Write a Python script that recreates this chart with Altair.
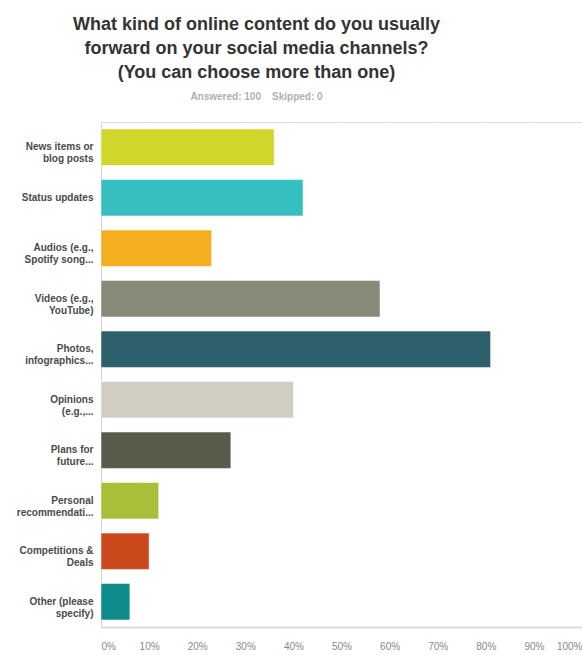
import altair as alt
import pandas as pd

categories = [
    "News items or\nblog posts",
    "Status updates",
    "Audios (e.g.,\nSpotify song...",
    "Videos (e.g.,\nYouTube)",
    "Photos,\ninfographics...",
    "Opinions\n(e.g.,...",
    "Plans for\nfuture...",
    "Personal\nrecommendati...",
    "Competitions &\nDeals",
    "Other (please\nspecify)",
]
values = [0.36, 0.42, 0.23, 0.58, 0.81, 0.40, 0.27, 0.12, 0.10, 0.06]
colors = ["#d0d62a", "#35bfc0", "#f6ae21", "#888a78", "#2e5f6c",
          "#d0cec0", "#5a5a4b", "#aabe3a", "#cb481d", "#0e8b8b"]
tick_values = [0, 0.1, 0.2, 0.3, 0.4, 0.5, 0.6, 0.7, 0.8, 0.9, 1.0]

df = pd.DataFrame({"category": categories, "value": values})

FONT = "Liberation Sans"

chart = alt.Chart(df).mark_bar(
    stroke="white", strokeOpacity=0.5, strokeWidth=1
).encode(
    x=alt.X(
        "value:Q",
        scale=alt.Scale(domain=[0, 1], nice=False),
        axis=alt.Axis(
            values=tick_values, format=".0%", title=None,
            grid=True, gridColor="white", gridWidth=1.2,
            ticks=False, domain=True, domainColor="#dcdcdc", domainWidth=2,
            labelFont=FONT, labelFontSize=10, labelColor="#888888",
            labelPadding=14, labelFlush=True,
        ),
    ),
    y=alt.Y(
        "category:N",
        sort=categories,
        scale=alt.Scale(paddingInner=0.28, paddingOuter=0.14),
        axis=alt.Axis(
            title=None, ticks=False, domain=True, domainColor="#d4d4d4",
            domainWidth=1, grid=False,
            labelExpr="split(datum.label, '\\n')",
            labelFont=FONT, labelFontSize=10, labelFontWeight="bold",
            labelColor="#4a4a4a", labelPadding=8, labelLineHeight=12,
            labelLimit=120,
        ),
    ),
    color=alt.Color(
        "category:N",
        scale=alt.Scale(domain=categories, range=colors),
        legend=None,
    ),
).properties(
    width=481,
    height=505,
    padding={"left": 101, "top": 122, "right": 0, "bottom": 28},
    autosize=alt.AutoSizeParams(type="none"),
    title=alt.TitleParams(
        text=["What kind of online content do you usually",
              "forward on your social media channels?",
              "(You can choose more than one)"],
        subtitle="Answered: 100\u00a0\u00a0\u00a0\u00a0Skipped: 0",
        anchor="middle",
        frame="group",
        dx=-85,
        font=FONT,
        fontSize=18,
        fontWeight="bold",
        color="#333333",
        lineHeight=24,
        subtitleFont=FONT,
        subtitleFontSize=10,
        subtitleFontWeight="bold",
        subtitleColor="#b0b0b0",
        subtitlePadding=10,
        offset=20,
    ),
).configure_view(
    fill="#f0f0f0", strokeOpacity=0, strokeWidth=0
).configure(background="white")

chart.save("out.html", embed_options={"renderer": "svg", "actions": False})
